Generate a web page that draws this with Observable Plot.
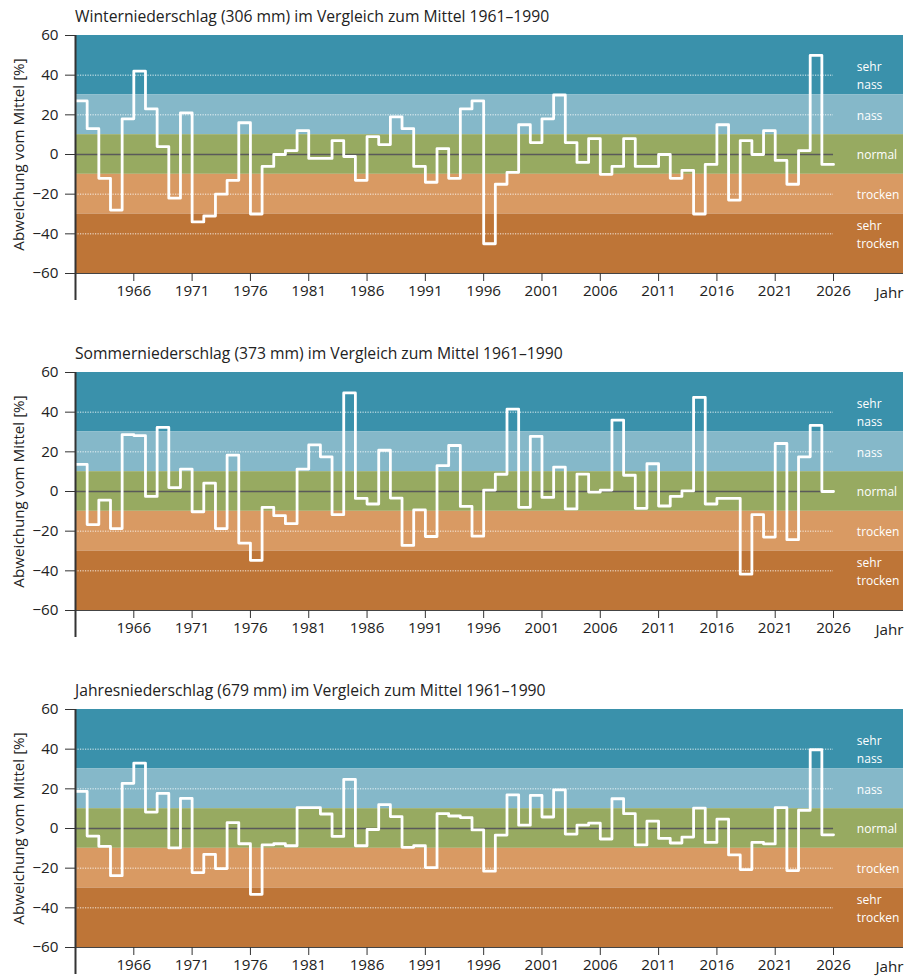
<!DOCTYPE html>
<html><head><meta charset="utf-8">
<script src="https://cdn.jsdelivr.net/npm/d3@7"></script>
<script src="https://cdn.jsdelivr.net/npm/@observablehq/plot@0.6"></script>
<style>
body{margin:0;background:#fff;overflow:hidden;font-family:"Open Sans",sans-serif;}
.panel{position:relative;width:924px;height:337px;}
.panel .title{position:absolute;left:75px;top:8px;font-size:15.7px;line-height:16px;color:#222;white-space:nowrap;}
.panel svg{position:absolute;left:0;top:28px;}
</style></head><body><div id="root"></div>
<script>
const firstYear = 1961;
const titles = [
  "Winterniederschlag (306 mm) im Vergleich zum Mittel 1961–1990",
  "Sommerniederschlag (373 mm) im Vergleich zum Mittel 1961–1990",
  "Jahresniederschlag (679 mm) im Vergleich zum Mittel 1961–1990"
];
const winter = [27,13,-12,-28,18,42,23,4,-22,21,
  -34,-31,-20,-13,16,-30,-6,0,2,12,
  -2,-2,7,-1,-13,9,5,19,13,-6,
  -14,3,-12,23,27,-45,-15,-9,15,6,
  18,30,6,-4,8,-10,-6,8,-6,-6,
  0,-12,-8,-30,-5,15,-23,7,0,12,
  -3,-15,2,50,-5];
const summer = [13.7,-16.7,-4.3,-18.7,28.7,28.2,-2.5,32.3,2,11.3,
  -10.2,4.2,-18.7,18.3,-26,-34.7,-8,-12.2,-16.2,11.3,
  23.5,17.5,-11.7,49.7,-3.5,-6.3,20.8,-3.3,-27.2,-9.3,
  -22.7,13,23.2,-7.5,-22.5,0.7,8.7,41.5,-8,27.8,
  -3,12.3,-8.8,8.8,-0.3,0.7,36,8.2,-8.5,14,
  -7.3,-2.5,0.3,47.5,-6.3,-3.5,-3.5,-41.7,-11.7,-23,
  24.2,-24.3,17.5,33.3,0];
const annual = [18.7,-3.8,-9,-23.8,22.8,33,8.3,17.7,-9.8,15.2,
  -22.2,-13,-20.2,3,-7.7,-33.2,-8.3,-7.7,-8.7,10.5,
  10.5,7.3,-4,24.8,-8.7,-0.5,12,6,-9.5,-8.7,
  -19.7,7.5,6.3,5.5,-0.7,-21.5,-3.3,17,1.7,16.7,
  5.8,19.5,-2.8,1.7,2.7,-5.3,15,7.5,-8.3,3.7,
  -5,-7.3,-4.3,10.3,-7,4.7,-13.3,-20.7,-7,-7.8,
  10.5,-21.2,9.2,39.7,-3.2];
const xTicks = [1966,1971,1976,1981,1986,1991,1996,2001,2006,2011,2016,2021,2026];
const yTicks = [-60,-40,-20,0,20,40,60];
const gridValues = [40,20,-20,-40];
const bandLabels = ["sehr\nnass","nass","normal","trocken","sehr\ntrocken"];
const bandLabelValues = [40,20,0,-20,-40];
const bandLower = [30,10,-10,-30,-60];
const bandUpper = [60,30,10,-10,-30];
const bandColors = ["#3a91ab","#85b8c9","#97aa61","#d99a63","#be7537"];

const root = document.getElementById("root");
[winter, summer, annual].forEach((values, k) => {
  const series = values.map((v, i) => ({year: firstYear + i, value: v}));
  const endYear = firstYear + values.length;
  series.push({year: endYear, value: values[values.length - 1]});
  const bandIdx = bandLower.map((_, i) => i);
  const chart = Plot.plot({
    width: 924, height: 309,
    marginLeft: 75, marginRight: 21, marginTop: 7, marginBottom: 64,
    x: {domain: [firstYear, endYear + 6]},
    y: {domain: [-60, 60]},
    color: {type: "identity"},
    style: {fontFamily: "Open Sans", fontSize: "15.2px", color: "#222", background: "transparent", overflow: "visible"},
    marks: [
      Plot.rect(bandIdx, {y1: i => bandLower[i], y2: i => bandUpper[i], fill: i => bandColors[i]}),
      Plot.ruleY(gridValues, {x1: firstYear, x2: endYear, stroke: "white", strokeOpacity: 0.85, strokeDasharray: "1.2,1.3", strokeWidth: 1}),
      Plot.ruleY([0], {x1: firstYear, x2: endYear, stroke: "#5a5a5a", strokeWidth: 1.3}),
      Plot.lineY(series, {x: "year", y: "value", curve: "step-after", stroke: "white", strokeWidth: 2.8}),
      Plot.text(bandIdx, {x: () => endYear + 2, y: i => bandLabelValues[i], text: i => bandLabels[i], fill: "white", textAnchor: "start", fontSize: 12, lineHeight: 1.5, dy: -1}),
      Plot.ruleY([-60], {stroke: "#444", strokeWidth: 1}),
      Plot.ruleX([firstYear], {y1: 60, y2: -60, insetBottom: -27, stroke: "#333", strokeWidth: 2}),
      Plot.axisY({ticks: yTicks, tickSize: 10, tickPadding: 7, stroke: "#333", label: "Abweichung vom Mittel [%]", labelAnchor: "center", labelArrow: "none", labelOffset: 62}),
      Plot.axisX({ticks: xTicks, tickSize: 8, tickPadding: 4, stroke: "#333", tickFormat: d => String(d), label: null}),
      Plot.text(["Jahr"], {frameAnchor: "bottom-right", textAnchor: "end", lineAnchor: "middle", dy: 20, fill: "#222"})
    ]
  });
  const panel = document.createElement("div");
  panel.className = "panel";
  const t = document.createElement("div");
  t.className = "title";
  t.textContent = titles[k];
  panel.appendChild(t);
  panel.appendChild(chart);
  root.appendChild(panel);
});
</script></body></html>
